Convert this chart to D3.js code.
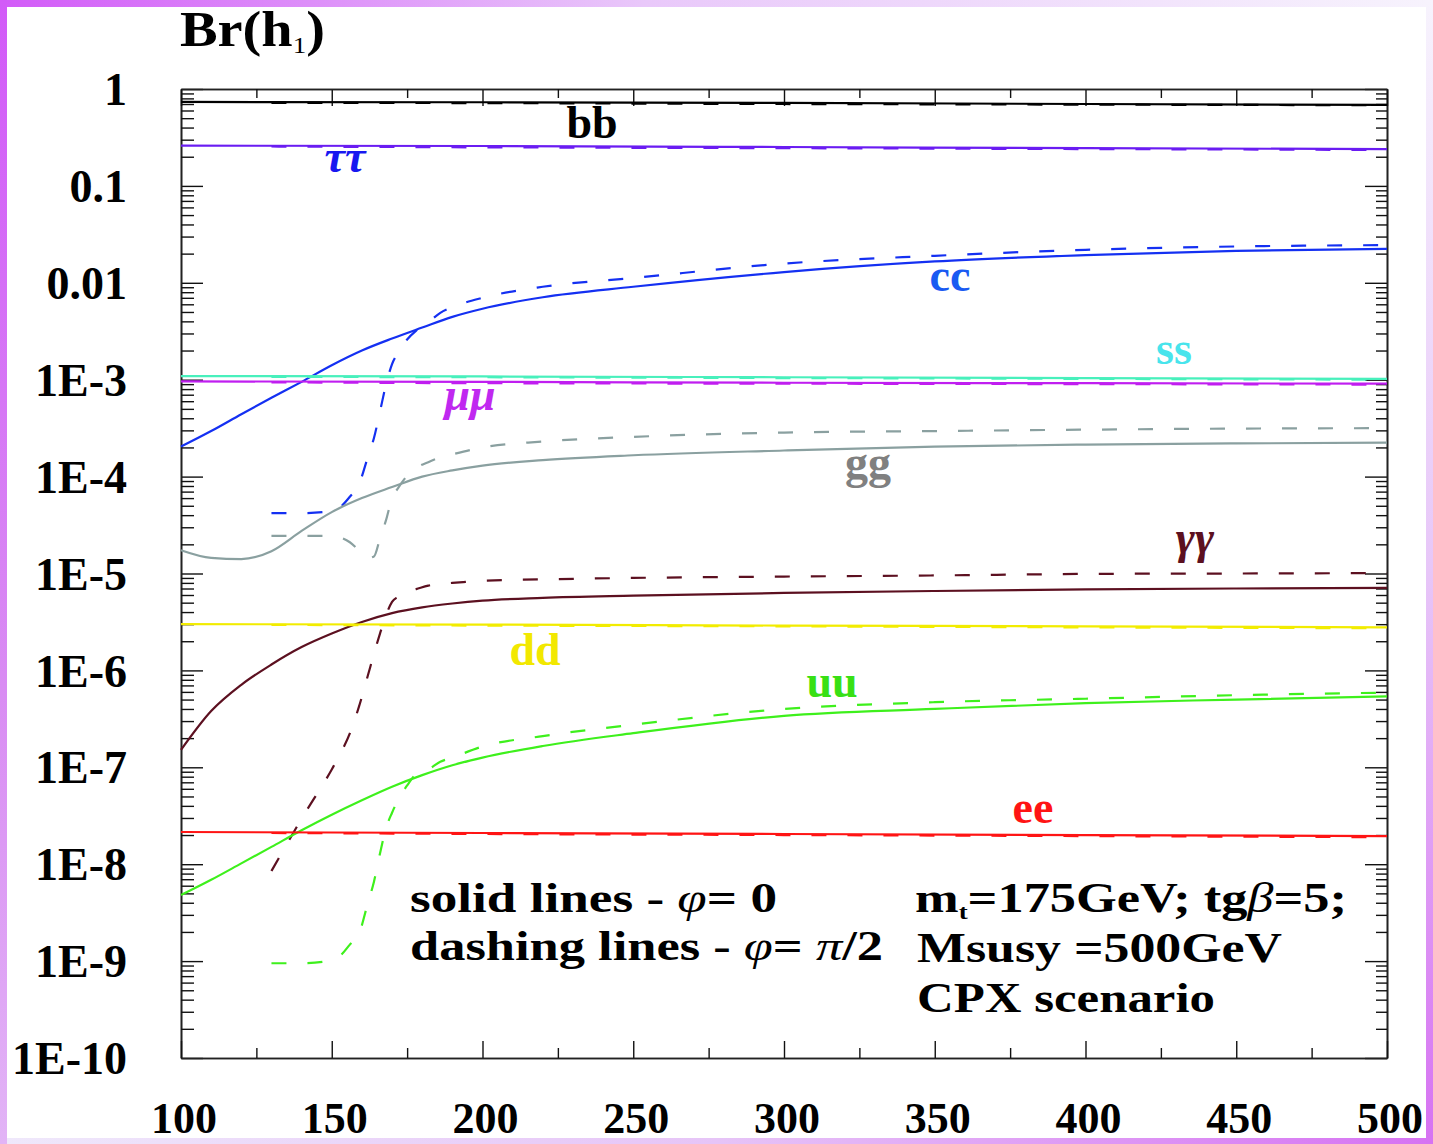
<!DOCTYPE html>
<html>
<head>
<meta charset="utf-8">
<script src="https://cdn.jsdelivr.net/npm/d3@7"></script>
<style>
  body { margin: 0; background: #fff; }
  svg text { font-family: "Liberation Serif", "Times New Roman", serif; font-weight: bold; }
</style>
</head>
<body>
<div id="chart"></div>
<script>
// masses (GeV) for the phi = 0 curves and for the phi = pi/2 curves
const massSolid = [100, 110, 120, 130, 140, 150, 160, 170, 180, 190, 200, 220, 250, 300, 350, 400, 450, 500];
const massDashed = [130, 140, 150, 153, 156, 159, 162, 164, 166, 168, 170, 172, 175, 178, 182, 186, 190, 200, 220, 250, 300, 350, 400, 450, 500];
const massFlat = [100, 200, 300, 400, 500];
const massFlatDashed = [130, 200, 300, 400, 500];

// branching ratios
const bbSolid = [0.735, 0.73, 0.72, 0.70, 0.685];
const bbDashed = [0.72, 0.715, 0.70, 0.69, 0.68];
const tautauSolid = [0.26, 0.258, 0.252, 0.245, 0.24];
const tautauDashed = [0.255, 0.25, 0.245, 0.24, 0.235];
const ssSolid = [1.09e-3, 1.08e-3, 1.06e-3, 1.04e-3, 1.02e-3];
const ssDashed = [1.07e-3, 1.06e-3, 1.04e-3, 1.02e-3, 1.0e-3];
const mumuSolid = [9.6e-4, 9.5e-4, 9.3e-4, 9.2e-4, 9.1e-4];
const mumuDashed = [9.4e-4, 9.2e-4, 9.1e-4, 9.0e-4, 8.9e-4];
const ddSolid = [3.0e-6, 2.97e-6, 2.9e-6, 2.85e-6, 2.78e-6];
const ddDashed = [2.95e-6, 2.9e-6, 2.85e-6, 2.78e-6, 2.72e-6];
const eeSolid = [2.15e-8, 2.1e-8, 2.05e-8, 2.0e-8, 1.95e-8];
const eeDashed = [2.1e-8, 2.05e-8, 2.0e-8, 1.95e-8, 1.9e-8];

const ccSolid = [2.04e-4, 2.95e-4, 4.4e-4, 6.5e-4, 9.5e-4, 1.41e-3, 2.0e-3, 2.66e-3, 3.45e-3, 4.45e-3, 5.4e-3, 7.1e-3, 9.1e-3, 1.29e-2, 1.66e-2, 1.93e-2, 2.14e-2, 2.24e-2];
const ccDashed = [4.2e-5, 4.2e-5, 4.4e-5, 4.9e-5, 6.2e-5, 8.3e-5, 1.6e-4, 2.5e-4, 4.7e-4, 8.9e-4, 1.45e-3, 1.9e-3, 2.6e-3, 3.2e-3, 3.9e-3, 4.9e-3, 5.6e-3, 7.0e-3, 9.1e-3, 1.12e-2, 1.58e-2, 1.9e-2, 2.19e-2, 2.37e-2, 2.45e-2];
const ggSolid = [1.74e-5, 1.45e-5, 1.41e-5, 1.7e-5, 2.75e-5, 4.3e-5, 6.0e-5, 7.8e-5, 1.0e-4, 1.16e-4, 1.3e-4, 1.48e-4, 1.66e-4, 1.86e-4, 2.04e-4, 2.14e-4, 2.2e-4, 2.24e-4];
const ggDashed = [2.45e-5, 2.45e-5, 2.45e-5, 2.34e-5, 2.1e-5, 1.74e-5, 1.45e-5, 1.5e-5, 2.3e-5, 3.55e-5, 6.0e-5, 7.6e-5, 1.02e-4, 1.23e-4, 1.41e-4, 1.58e-4, 1.7e-4, 2.0e-4, 2.3e-4, 2.57e-4, 2.85e-4, 2.95e-4, 3.05e-4, 3.13e-4, 3.16e-4];
const gagaSolid = [1.51e-7, 3.8e-7, 7.1e-7, 1.15e-6, 1.74e-6, 2.4e-6, 3.16e-6, 3.9e-6, 4.47e-6, 4.9e-6, 5.25e-6, 5.6e-6, 5.9e-6, 6.3e-6, 6.6e-6, 6.85e-6, 7.0e-6, 7.1e-6];
const gagaDashed = [8.5e-9, 2.95e-8, 9.5e-8, 1.41e-7, 2.24e-7, 4.2e-7, 8.9e-7, 1.48e-6, 2.4e-6, 3.7e-6, 5.1e-6, 5.75e-6, 6.5e-6, 6.9e-6, 7.5e-6, 7.85e-6, 8.0e-6, 8.4e-6, 8.7e-6, 9.0e-6, 9.3e-6, 9.55e-6, 9.9e-6, 1.0e-5, 1.01e-5];
const uuSolid = [4.8e-9, 6.9e-9, 1.02e-8, 1.51e-8, 2.24e-8, 3.24e-8, 4.57e-8, 6.3e-8, 8.3e-8, 1.05e-7, 1.26e-7, 1.66e-7, 2.25e-7, 3.4e-7, 4.0e-7, 4.6e-7, 5.0e-7, 5.4e-7];
const uuDashed = [9.5e-10, 9.5e-10, 1.02e-9, 1.15e-9, 1.48e-9, 1.9e-9, 4.0e-9, 6.6e-9, 1.29e-8, 2.35e-8, 3.4e-8, 4.6e-8, 6.5e-8, 8.5e-8, 9.5e-8, 1.14e-7, 1.26e-7, 1.64e-7, 2.1e-7, 2.75e-7, 4.0e-7, 4.7e-7, 5.1e-7, 5.55e-7, 5.9e-7];

const yTickValues = [1, 0.1, 0.01, 1e-3, 1e-4, 1e-5, 1e-6, 1e-7, 1e-8, 1e-9, 1e-10];
const yTickLabels = ["1", "0.1", "0.01", "1E-3", "1E-4", "1E-5", "1E-6", "1E-7", "1E-8", "1E-9", "1E-10"];
const xTickValues = [100, 150, 200, 250, 300, 350, 400, 450, 500];
const xMinorValues = [125, 175, 225, 275, 325, 375, 425, 475];

const width = 1433, height = 1144;
const plotLeft = 181, plotRight = 1387, plotTop = 89, plotBottom = 1058;

const svg = d3.select("#chart")
  .append("svg")
  .attr("width", width)
  .attr("height", height);

// purple frame round the picture
const defs = svg.append("defs");
function grad(id, x2, y2, stops) {
  const g = defs.append("linearGradient").attr("id", id)
    .attr("x1", 0).attr("y1", 0).attr("x2", x2).attr("y2", y2);
  stops.forEach(s => g.append("stop").attr("offset", s[0]).attr("stop-color", s[1]));
}
grad("gTop", 1, 0, [[0, "#d25af8"], [0.45, "#e9c8fa"], [1, "#f7f3fd"]]);
grad("gLeft", 0, 1, [[0, "#d25af8"], [0.6, "#d98cf3"], [1, "#e2b4f6"]]);
grad("gBottom", 1, 0, [[0, "#efe8fb"], [0.5, "#e6c4f7"], [1, "#d672f2"]]);
grad("gRight", 0, 1, [[0, "#f7f3fd"], [0.5, "#e7c6f8"], [1, "#d672f2"]]);

svg.append("rect").attr("width", width).attr("height", height).attr("fill", "#fff");
svg.append("rect").attr("x", 0).attr("y", 0).attr("width", width).attr("height", 7).attr("fill", "url(#gTop)");
svg.append("rect").attr("x", 0).attr("y", 1138).attr("width", width).attr("height", 6).attr("fill", "url(#gBottom)");
svg.append("rect").attr("x", 0).attr("y", 0).attr("width", 7).attr("height", height).attr("fill", "url(#gLeft)");
svg.append("rect").attr("x", 1426).attr("y", 0).attr("width", 7).attr("height", height).attr("fill", "url(#gRight)");

const x = d3.scaleLinear().domain([100, 500]).range([plotLeft, plotRight]);
const y = d3.scaleLog().domain([1e-10, 1]).range([plotBottom, plotTop]);

// minor log ticks 2..9 in every decade
const yMinorValues = [];
for (let e = -10; e < 0; e++) {
  for (let k = 2; k <= 9; k++) yMinorValues.push(k * Math.pow(10, e));
}

// axes: ticks drawn inwards on all four sides
function axis(gen, tr, values, size) {
  const g = svg.append("g")
    .attr("transform", tr)
    .call(gen.tickValues(values).tickSize(size).tickSizeOuter(0).tickFormat(""));
  g.selectAll("line").attr("stroke", "#111").attr("stroke-width", 1.4);
  g.select(".domain").attr("stroke", "#222").attr("stroke-width", 1.6);
  return g;
}
axis(d3.axisRight(y), `translate(${plotLeft},0)`, yTickValues, 22);
axis(d3.axisRight(y), `translate(${plotLeft},0)`, yMinorValues, 13);
axis(d3.axisLeft(y), `translate(${plotRight},0)`, yTickValues, 22);
axis(d3.axisLeft(y), `translate(${plotRight},0)`, yMinorValues, 11);
axis(d3.axisBottom(x), `translate(0,${plotTop})`, xTickValues, 17);
axis(d3.axisBottom(x), `translate(0,${plotTop})`, xMinorValues, 9);
axis(d3.axisTop(x), `translate(0,${plotBottom})`, xTickValues, 17);
axis(d3.axisTop(x), `translate(0,${plotBottom})`, xMinorValues, 10);

// tick labels
svg.append("g")
  .selectAll("text")
  .data(yTickValues)
  .enter()
  .append("text")
  .attr("x", 127)
  .attr("y", d => y(d))
  .attr("dy", "0.35em")
  .attr("text-anchor", "end")
  .style("font-size", "46px")
  .text((d, i) => yTickLabels[i]);

svg.append("g")
  .selectAll("text")
  .data(xTickValues)
  .enter()
  .append("text")
  .attr("x", d => x(d) + 3)
  .attr("y", 1133)
  .attr("text-anchor", "middle")
  .style("font-size", "44px")
  .text(d => d);

// title
const title = svg.append("text").attr("x", 180).attr("y", 46).style("font-size", "50px")
  .attr("textLength", 145).attr("lengthAdjust", "spacingAndGlyphs");
title.append("tspan").text("Br(h");
title.append("tspan").attr("dy", 7).style("font-size", "24px").style("font-weight", "normal").text("1");
title.append("tspan").attr("dy", -7).text(")");

// curves
const series = [
  { name: "bb", color: "#000000", mass: massFlat, solid: bbSolid, massD: massFlatDashed, dashed: bbDashed },
  { name: "tautau", color: "#6a1cf2", mass: massFlat, solid: tautauSolid, massD: massFlatDashed, dashed: tautauDashed },
  { name: "cc", color: "#1430f2", mass: massSolid, solid: ccSolid, massD: massDashed, dashed: ccDashed },
  { name: "ss", color: "#48f0bc", mass: massFlat, solid: ssSolid, massD: massFlatDashed, dashed: ssDashed },
  { name: "mumu", color: "#c01ef0", mass: massFlat, solid: mumuSolid, massD: massFlatDashed, dashed: mumuDashed },
  { name: "gg", color: "#8aa0a0", mass: massSolid, solid: ggSolid, massD: massDashed, dashed: ggDashed },
  { name: "gaga", color: "#5c1020", mass: massSolid, solid: gagaSolid, massD: massDashed, dashed: gagaDashed },
  { name: "dd", color: "#f2ec00", mass: massFlat, solid: ddSolid, massD: massFlatDashed, dashed: ddDashed },
  { name: "uu", color: "#3ef01c", mass: massSolid, solid: uuSolid, massD: massDashed, dashed: uuDashed },
  { name: "ee", color: "#ff1414", mass: massFlat, solid: eeSolid, massD: massFlatDashed, dashed: eeDashed }
];

const line = d3.line()
  .x(d => x(d[0]))
  .y(d => y(d[1]))
  .curve(d3.curveMonotoneX);

const curves = svg.append("g").attr("id", "curves");
series.forEach(s => {
  curves.append("path")
    .attr("d", line(s.massD.map((m, i) => [m, s.dashed[i]])))
    .attr("fill", "none")
    .attr("stroke", s.color)
    .attr("stroke-width", 2.2)
    .attr("stroke-dasharray", "15,21");
  curves.append("path")
    .attr("d", line(s.mass.map((m, i) => [m, s.solid[i]])))
    .attr("fill", "none")
    .attr("stroke", s.color)
    .attr("stroke-width", 2.2);
});

// curve labels
const labels = [
  { text: "bb", x: 592, y: 138, color: "#000000", italic: false },
  { text: "ττ", x: 345, y: 172, color: "#1818f0", italic: true },
  { text: "cc", x: 950, y: 291, color: "#1a5af2", italic: false },
  { text: "ss", x: 1174, y: 364, color: "#48e4ec", italic: false },
  { text: "μμ", x: 470, y: 410, color: "#c028f0", italic: true },
  { text: "gg", x: 868, y: 478, color: "#808080", italic: false },
  { text: "γγ", x: 1195, y: 553, color: "#5c1020", italic: true },
  { text: "dd", x: 535, y: 665, color: "#f2e800", italic: false },
  { text: "uu", x: 832, y: 697, color: "#38e014", italic: false },
  { text: "ee", x: 1033, y: 823, color: "#ff1414", italic: false }
];
svg.append("g")
  .selectAll("text")
  .data(labels)
  .enter()
  .append("text")
  .attr("x", d => d.x)
  .attr("y", d => d.y)
  .attr("text-anchor", "middle")
  .style("font-size", "46px")
  .style("font-style", d => (d.italic ? "italic" : "normal"))
  .attr("fill", d => d.color)
  .text(d => d.text);

// notes
function note(xp, yp, len, parts) {
  const t = svg.append("text").attr("x", xp).attr("y", yp).style("font-size", "43px")
    .attr("textLength", len).attr("lengthAdjust", "spacingAndGlyphs");
  parts.forEach(p => {
    const ts = t.append("tspan").text(p.t);
    if (p.i) ts.style("font-style", "italic").style("font-weight", "normal");
    if (p.sub) ts.attr("dy", 7).style("font-size", "22px");
    if (p.up) ts.attr("dy", -7);
  });
}
note(410, 912, 367, [{ t: "solid lines - " }, { t: "φ", i: true }, { t: "= 0" }]);
note(410, 960, 473, [{ t: "dashing lines - " }, { t: "φ", i: true }, { t: "= " }, { t: "π", i: true }, { t: "/2" }]);
note(915, 912, 432, [{ t: "m" }, { t: "t", sub: true }, { t: "=175GeV; tg", up: true }, { t: "β", i: true }, { t: "=5;" }]);
note(917, 962, 365, [{ t: "Msusy =500GeV" }]);
note(917, 1012, 298, [{ t: "CPX scenario" }]);
</script>
</body>
</html>
